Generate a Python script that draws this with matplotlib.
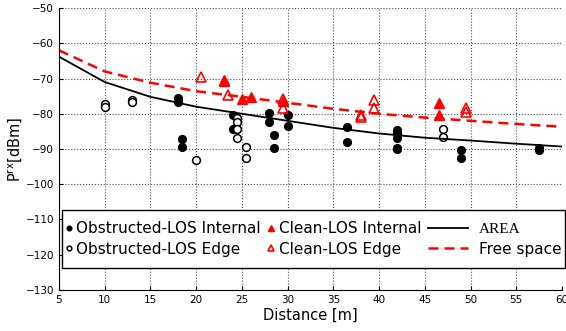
import matplotlib
matplotlib.use("Agg")
import matplotlib.pyplot as plt
from matplotlib.legend_handler import HandlerLine2D
from matplotlib.patches import Rectangle

# measured received power vs. distance
obs_int_d = [18, 18, 18.5, 18.5, 24, 24, 28, 28, 28.5, 28.5, 30, 30, 36.5, 36.5,
             42, 42, 42, 42, 42, 49, 49, 57.5, 57.5]
obs_int_p = [-75.6, -76.8, -87.3, -89.4, -80.4, -84.3, -79.7, -82.3, -86.0, -89.7,
             -80.4, -83.5, -83.9, -88.1, -84.5, -85.5, -86.8, -89.6, -90.1, -90.3,
             -92.6, -89.8, -90.3]

obs_edge_d = [10, 10, 13, 13, 20, 24.5, 24.5, 24.5, 24.5, 25.5, 25.5, 47, 47]
obs_edge_p = [-77.3, -78.2, -76.1, -76.6, -93.1, -81.3, -82.3, -84.4, -86.8,
              -89.5, -92.5, -84.3, -86.5]

clean_int_d = [23, 23, 25, 26, 29.5, 46.5, 46.5]
clean_int_p = [-70.3, -70.8, -75.8, -75.3, -76.5, -77.0, -80.4]

clean_edge_d = [20.5, 23.5, 29.5, 29.5, 38, 38, 39.5, 39.5, 49.5, 49.5]
clean_edge_p = [-69.7, -74.6, -75.8, -78.3, -80.3, -80.9, -76.1, -78.5, -78.5, -79.4]

# model curves
model_d = [5, 10, 15, 20, 25, 30, 35, 40, 45, 50, 55, 60]
area_p = [-63.8, -71.0, -75.2, -78.0, -80.0, -82.0, -84.0, -85.6, -86.8, -87.6, -88.5, -89.3]
free_p = [-62.0, -68.0, -71.2, -73.6, -75.2, -76.9, -78.6, -80.0, -81.1, -82.0, -82.9, -83.7]


class WideLine(HandlerLine2D):
    # lines get a longer handle than the markers
    def legend_artist(self, legend, orig_handle, fontsize, handlebox):
        handlebox.width = 3.1 * fontsize
        return super().legend_artist(legend, orig_handle, fontsize, handlebox)

    def create_artists(self, legend, orig_handle, xdescent, ydescent, width,
                       height, fontsize, trans):
        return super().create_artists(legend, orig_handle, xdescent, ydescent,
                                      width - 0.45 * fontsize, height, fontsize, trans)


plt.rcParams["font.family"] = ["DejaVu Sans"]
plt.rcParams["mathtext.fontset"] = "dejavusans"

fig = plt.figure(figsize=(5.66, 3.31), dpi=100)
ax = fig.add_axes([0.1042, 0.1239, 0.8887, 0.8519])

ax.plot(obs_int_d, obs_int_p, "o", color="black", ms=5.6, mec="black",
        label="Obstructed-LOS Internal")
ax.plot(obs_edge_d, obs_edge_p, "o", mfc="white", mec="black", mew=1.1, ms=5.6,
        label="Obstructed-LOS Edge")
ax.plot(clean_int_d, clean_int_p, "^", color="red", ms=7.5, mec="red",
        label="Clean-LOS Internal")
ax.plot(clean_edge_d, clean_edge_p, "^", mfc="none", mec="red", mew=1.2, ms=7.5,
        label="Clean-LOS Edge")
ax.plot(model_d, area_p, "-", color="black", lw=1.3, label="AREA")
ax.plot(model_d, free_p, "--", color="red", lw=1.8, dashes=(4, 2.4),
        label="Free space")

ax.set_xlim(5, 60)
ax.set_ylim(-130, -50)
ax.set_xticks(range(5, 61, 5))
ax.set_yticks(range(-130, -49, 10))
ax.tick_params(direction="in", labelsize=7.5, length=3, top=False, right=False)
ax.spines["top"].set_visible(False)
ax.spines["right"].set_visible(False)
ax.grid(True, linestyle=":", color="0.3", linewidth=0.8)
ax.set_axisbelow(True)

ax.set_xlabel("Distance [m]", fontsize=10.5, labelpad=2)
ax.set_ylabel(r"P$^{\mathrm{rx}}$[dBm]", fontsize=10.5, labelpad=1)

# legend frame drawn by hand so it can be taller than the text block
box = (0.1095, 0.191, 0.8885, 0.1746)
ax.add_patch(Rectangle(box[:2], box[2], box[3], transform=fig.transFigure,
                       facecolor="white", edgecolor="black", lw=1.0,
                       clip_on=False, zorder=4.9))

handles, labels = ax.get_legend_handles_labels()
lines = handles[4:]
leg = ax.legend(handles, labels, ncol=3, fontsize=11, handlelength=0.5,
                handletextpad=0.25, markerscale=0.6,
                borderpad=0.2, labelspacing=0.35, borderaxespad=0,
                frameon=False, loc="center left", mode="expand",
                bbox_to_anchor=box, bbox_transform=fig.transFigure,
                handler_map={h: WideLine() for h in lines})
leg.set_zorder(5)
leg.get_texts()[4].set_family("Liberation Serif")

fig.savefig("out.png", dpi=100)
